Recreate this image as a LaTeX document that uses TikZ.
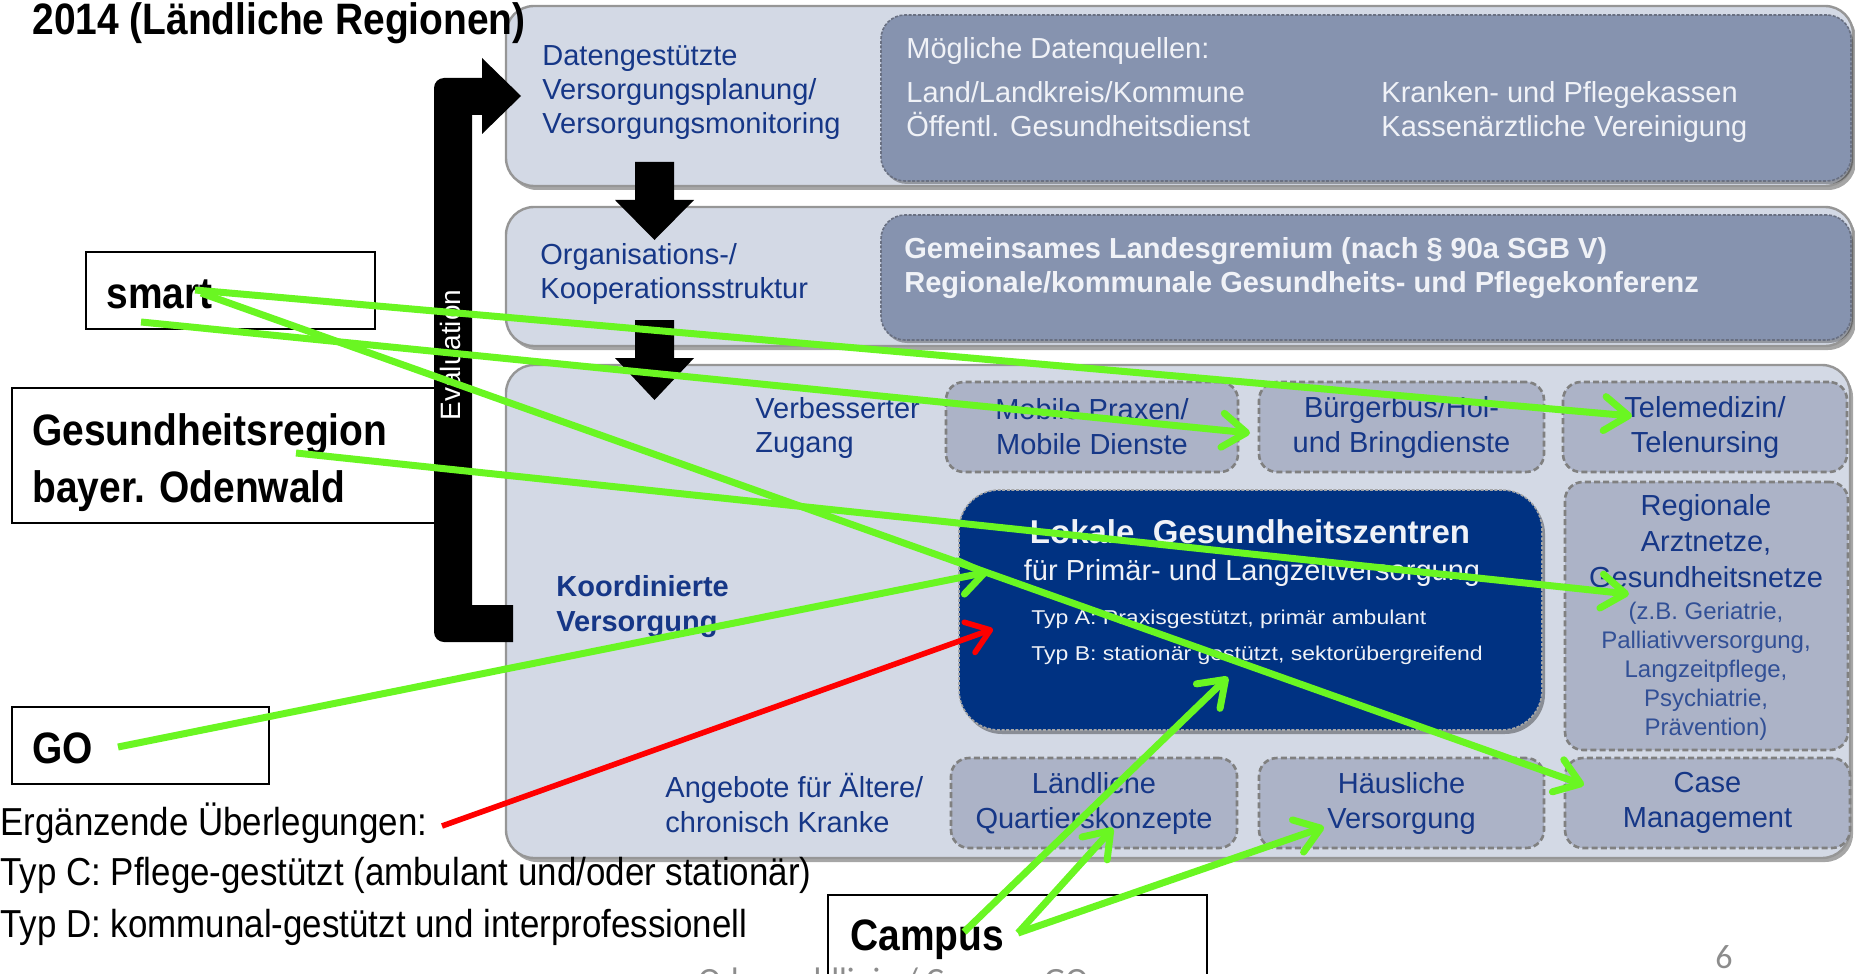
\documentclass[tikz,border=0pt]{standalone}
\usepackage{fontspec}
\setmainfont{Liberation Sans}
\newfontfamily\narrowfont[FakeStretch=0.895]{Liberation Sans}
\newfontfamily\boldnarrow[FakeStretch=0.885]{Liberation Sans}
\newfontfamily\widesmall[FakeStretch=1.15]{Liberation Sans}
\newfontfamily\calibfont{Carlito}
\usetikzlibrary{fit,shadows,arrows.meta}
\definecolor{rowfill}{RGB}{211,217,229}
\definecolor{rowborder}{RGB}{150,150,150}
\definecolor{innerfill}{RGB}{134,147,175}
\definecolor{innerborder}{RGB}{105,112,130}
\definecolor{dashfill}{RGB}{172,179,199}
\definecolor{dashborder}{RGB}{128,128,128}
\definecolor{darkblue}{RGB}{0,50,130}
\definecolor{labelblue}{RGB}{22,55,135}
\definecolor{lightblue}{RGB}{50,80,150}
\definecolor{wtextc}{RGB}{240,242,247}
\definecolor{glime}{RGB}{106,246,34}
\definecolor{footgray}{RGB}{140,140,140}
\begin{document}
\begin{tikzpicture}[x=0.5pt,y=-0.5pt,
 rowbox/.style={draw=rowborder, line width=1.2pt, fill=rowfill, rounded corners=14pt, inner sep=0pt,
   drop shadow={shadow xshift=1.5pt, shadow yshift=-2pt, fill=black, opacity=0.35}},
 innerbox/.style={draw=innerborder, line width=0.8pt, dash pattern=on 1.5pt off 0.8pt, fill=innerfill,
   rounded corners=12pt, inner sep=0pt, drop shadow={shadow xshift=1pt, shadow yshift=-1.5pt, fill=black, opacity=0.3}},
 dashbox/.style={draw=dashborder, line width=1.3pt, dash pattern=on 3pt off 1.6pt, fill=dashfill,
   rounded corners=9pt, inner sep=0pt},
 boxtext/.style={inner sep=0pt, align=center, text=labelblue, font=\fontsize{14.5}{17.5}\selectfont},
 lgzbox/.style={draw=gray!70, line width=0.8pt, dash pattern=on 1.5pt off 0.8pt, fill=darkblue,
   rounded corners=20pt, inner sep=0pt, drop shadow={shadow xshift=1.5pt, shadow yshift=-2pt, fill=black, opacity=0.35}},
 lbl/.style={inner sep=0pt, align=left, text=labelblue, font=\fontsize{14.5}{17}\selectfont},
 wtext/.style={inner sep=0pt, text=wtextc, font=\fontsize{14.5}{17}\selectfont},
 labelbox/.style={draw=black, line width=0.9pt, fill=white, inner sep=0pt},
 bigtext/.style={inner sep=0pt, font=\boldnarrow\bfseries\fontsize{22}{28}\selectfont},
 ergtext/.style={inner sep=0pt, font=\narrowfont\fontsize{19.5}{24}\selectfont},
 gline/.style={draw=glime, line width=3.5pt, -{Straight Barb[length=12pt,width=17pt,round]}},
 rline/.style={draw=red, line width=2.8pt, -{Straight Barb[length=11pt,width=16pt,round]}}
]
\useasboundingbox (0,0) rectangle (1855,973);
\clip (0,0) rectangle (1855,973);

% rows
\node[rowbox, fit={(506,6) (1853,186)}] (row1) {};
\node[rowbox, fit={(506,207) (1853,346)}] (row2) {};
\node[rowbox, fit={(506,365) (1850,858)}] (row3) {};
\node[innerbox, fit={(881,15) (1851,181)}] (src) {};
\node[innerbox, fit={(881,215) (1851,340)}] (grem) {};

% row 1 texts
\node[lbl, anchor=west] (tdaten) at (542,93) {Datengestützte\\Versorgungsplanung/\\Versorgungsmonitoring};
\node[wtext, anchor=base west] (q0) at (906,59) {Mögliche Datenquellen:};
\node[wtext, anchor=base west] (q1) at (906,103) {Land/Landkreis/Kommune};
\node[wtext, anchor=base west] (q2) at (906,137) {Öffentl. Gesundheitsdienst};
\node[wtext, anchor=base west] (q3) at (1381,103) {Kranken- und Pflegekassen};
\node[wtext, anchor=base west] (q4) at (1381,137) {Kassenärztliche Vereinigung};

% row 2 texts
\node[lbl, anchor=west] (torg) at (540,274) {Organisations-/\\Kooperationsstruktur};
\node[wtext, anchor=west, align=left, font=\bfseries\fontsize{14.5}{17}\selectfont] (tgrem) at (904,268)
  {Gemeinsames Landesgremium (nach § 90a SGB V)\\Regionale/kommunale Gesundheits- und Pflegekonferenz};

% row 3 boxes
\node[dashbox, fit={(946,382) (1238,472)}] (mobil) {};
\node[dashbox, fit={(1259,382) (1544,472)}] (buerger) {};
\node[dashbox, fit={(1563,382) (1847,472)}] (tele) {};
\node[dashbox, fit={(1565,482) (1848,750)}] (arzt) {};
\node[dashbox, fit={(951,758) (1237,848)}] (quart) {};
\node[dashbox, fit={(1259,758) (1544,848)}] (haus) {};
\node[dashbox, fit={(1565,758) (1850,848)}] (case) {};
\node[lgzbox, fit={(959,490) (1542,730)}] (lgz) {};
\node[boxtext] (mobilT) at (mobil.center) {Mobile Praxen/\\Mobile Dienste};
\node[boxtext] (buergerT) at (buerger.center) {Bürgerbus/Hol-\\und Bringdienste};
\node[boxtext] (teleT) at (tele.center) {Telemedizin/\\Telenursing};
\node[boxtext] (quartT) at (quart.center) {Ländliche\\Quartierskonzepte};
\node[boxtext] (hausT) at (haus.center) {Häusliche\\Versorgung};
\node[boxtext] (caseT) at (case.center) {Case\\Management};

% row 3 texts
\node[lbl, anchor=west] (tzug) at (755,428) {Verbesserter\\Zugang};
\node[lbl, anchor=west, font=\bfseries\fontsize{14.5}{17.5}\selectfont] (tkoord) at (556,607) {Koordinierte\\Versorgung};
\node[lbl, anchor=west, font=\fontsize{14.5}{17.5}\selectfont] (tang) at (665,803) {Angebote für Ältere/\\chronisch Kranke};
\node[lbl, align=center, font=\fontsize{14.5}{18}\selectfont] (arzt1) at (1706,541) {Regionale\\Arztnetze,\\Gesundheitsnetze};
\node[lbl, align=center, text=lightblue, font=\fontsize{12}{14.5}\selectfont] (arzt2) at (1706,671)
  {(z.B. Geriatrie,\\Palliativversorgung,\\Langzeitpflege,\\Psychiatrie,\\Prävention)};
\node[wtext, anchor=base, font=\bfseries\fontsize{16.5}{19}\selectfont] (lgz1) at (1250,543) {Lokale\ \ Gesundheitszentren};
\node[wtext, anchor=base] (lgz2) at (1252,580) {für Primär- und Langzeitversorgung};
\node[wtext, anchor=base west, font=\widesmall\fontsize{10}{12}\selectfont] (lgz3) at (1031,624) {Typ A: Praxisgestützt, primär ambulant};
\node[wtext, anchor=base west, font=\widesmall\fontsize{10}{12}\selectfont] (lgz4) at (1031,660) {Typ B: stationär gestützt, sektorübergreifend};

% black down arrows
\fill[black] (635,162) -- (674,162) -- (674,200) -- (694,200) -- (654.5,240) -- (615,200) -- (635,200) -- cycle;
\fill[black] (635,320) -- (674,320) -- (674,358) -- (694,358) -- (654.5,400) -- (615,358) -- (635,358) -- cycle;

% label boxes
\node[labelbox, fit={(86,252) (375,329)}] (smartbox) {};
\node[labelbox, fit={(12,388) (440,523)}] (gesbox) {};
\node[labelbox, fit={(12,707) (269,784)}] (gobox) {};
\node[labelbox, fit={(828,895) (1207,985)}] (campbox) {};

% evaluation bracket
\fill[black] (513,605) -- (472,605) -- (472,115) -- (482,115) -- (482,134) -- (521,96) -- (482,58) -- (482,78)
  -- (444,78) arc[start angle=270, end angle=180, radius=10] -- (434,632)
  arc[start angle=180, end angle=90, radius=10] -- (513,642) -- cycle;
\node[rotate=90, inner sep=0pt, text=white, font=\fontsize{14}{16}\selectfont] (evaltxt) at (450,355) {Evaluation};

% texts
\node[bigtext, anchor=base west] (title) at (32,35) {2014 (Ländliche Regionen)};
\node[bigtext, anchor=base west] (smart) at (106,308) {smart};
\node[bigtext, anchor=base west] (ges1) at (32,445) {Gesundheitsregion};
\node[bigtext, anchor=base west] (ges2) at (32,502) {bayer. Odenwald};
\node[bigtext, anchor=base west] (go) at (32,763) {GO};
\node[bigtext, anchor=base west] (campus) at (850,950) {Campus};
\node[ergtext, anchor=base west] (erg1) at (0,835) {Ergänzende Überlegungen:};
\node[ergtext, anchor=base west] (erg2) at (0,885) {Typ C: Pflege-gestützt (ambulant und/oder stationär)};
\node[ergtext, anchor=base west] (erg3) at (0,937) {Typ D: kommunal-gestützt und interprofessionell};
\node[inner sep=0pt, anchor=base west, text=footgray, font=\calibfont\fontsize{17}{20}\selectfont] (foot) at (698,991) {Odenwaldlinie / Campus GO};
\node[inner sep=0pt, anchor=base west, text=footgray, font=\calibfont\fontsize{17}{20}\selectfont] (pnum) at (1715,968) {6};

% connector end points
\coordinate (sm1) at (195,290);
\coordinate (sm2) at (141,322);
\coordinate (sm3) at (201,293);
\coordinate (gr1) at (296,453);
\coordinate (go1) at (118,747);
\coordinate (er1) at (442,826);
\coordinate (ca1) at (964,932);
\coordinate (ca2) at (1018,933);
\coordinate (teleIn) at (1632,416);
\coordinate (buergerIn) at (1250,433);
\coordinate (caseIn) at (1584,785);
\coordinate (arztIn) at (1629,594);
\coordinate (lgzInA) at (988,572);
\coordinate (lgzInB) at (993,629);
\coordinate (lgzInC) at (1228,677);
\coordinate (quartIn) at (1113,828);
\coordinate (hausIn) at (1324,827);

% connectors
\draw[gline] (sm1) -- (teleIn);
\draw[gline] (sm2) -- (buergerIn);
\draw[gline] (sm3) -- (caseIn);
\draw[gline] (gr1) -- (arztIn);
\draw[gline] (go1) -- (lgzInA);
\draw[rline] (er1) -- (lgzInB);
\draw[gline] (ca1) -- (lgzInC);
\draw[gline] (ca2) -- (quartIn);
\draw[gline] (ca2) -- (hausIn);
\end{tikzpicture}
\end{document}
